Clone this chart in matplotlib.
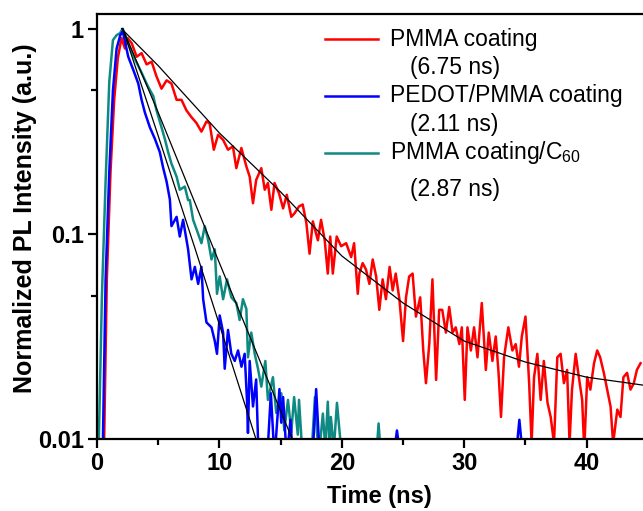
import matplotlib
matplotlib.use("Agg")
import matplotlib.pyplot as plt
from matplotlib.ticker import FixedLocator, NullFormatter

plt.rcParams['font.family'] = ['Liberation Sans', 'DejaVu Sans']
plt.rcParams['mathtext.fontset'] = 'custom'
plt.rcParams['mathtext.rm'] = 'Liberation Sans'

# PMMA coating (red)
red_t = [0.5, 0.8, 1.1, 1.4, 1.7, 2.0, 2.28, 2.5, 2.83, 3.24, 3.64, 4.05, 4.46, 4.86, 5.27, 5.68,
         6.08, 6.5, 6.9, 7.3, 7.72, 8.12, 8.53, 8.94, 9.2, 9.54, 9.89, 10.3, 10.7, 11.1, 11.38, 11.79,
         12.2, 12.47, 12.74, 13.0, 13.42, 13.7, 13.96, 14.24, 14.5, 14.86, 15.2, 15.5, 15.87, 16.14,
         16.5, 16.8, 17.1, 17.36, 17.63, 18.04, 18.3, 18.6, 18.85, 19.05, 19.26, 19.58, 19.94, 20.35,
         20.76, 21.0, 21.3, 21.43, 21.7, 21.97, 22.25, 22.52, 22.8, 23.06, 23.33, 23.6, 23.9, 24.15,
         24.4, 24.7, 25.0, 25.24, 25.5, 25.78, 26.05, 26.4, 26.65, 26.87, 27.14, 27.4, 27.7, 27.95,
         28.2, 28.5, 28.77, 29.04, 29.3, 29.6, 29.8, 30.04, 30.26, 30.54, 30.8, 31.08, 31.43, 31.76,
         32.0, 32.3, 32.57, 32.8, 33.0, 33.25, 33.6, 33.93, 34.2, 34.47, 34.7, 35.0, 35.3, 35.5, 35.7,
         35.97, 36.24, 36.5, 36.8, 37.06, 37.33, 37.6, 37.87, 38.14, 38.4, 38.6, 38.8, 39.1, 39.36,
         39.63, 39.8, 40.04, 40.3, 40.6, 40.86, 41.1, 41.4, 41.67, 41.95, 42.16, 42.5, 42.76, 43.0,
         43.3, 43.58, 43.85, 44.1, 44.4]
red_I = [0.005, 0.06, 0.2, 0.45, 0.72, 0.9, 0.8, 0.9, 0.85, 0.73, 0.76, 0.67, 0.69, 0.585, 0.51, 0.56,
         0.54, 0.45, 0.45, 0.40, 0.37, 0.347, 0.315, 0.353, 0.345, 0.257, 0.304, 0.287, 0.257, 0.267, 0.209, 0.262,
         0.213, 0.19, 0.141, 0.183, 0.209, 0.164, 0.177, 0.131, 0.177, 0.158, 0.133, 0.155, 0.121, 0.126,
         0.136, 0.139, 0.113, 0.080, 0.115, 0.093, 0.117, 0.093, 0.064, 0.097, 0.064, 0.097, 0.087, 0.090,
         0.077, 0.090, 0.051, 0.064, 0.072, 0.067, 0.057, 0.075, 0.062, 0.0426, 0.060, 0.048, 0.069, 0.053,
         0.064, 0.048, 0.030, 0.049, 0.062, 0.064, 0.0395, 0.049, 0.027, 0.0187, 0.029, 0.060, 0.0194, 0.0426,
         0.0426, 0.033, 0.044, 0.033, 0.035, 0.029, 0.035, 0.0155, 0.035, 0.027, 0.035, 0.025, 0.046, 0.0217,
         0.033, 0.024, 0.0316, 0.021, 0.0128, 0.025, 0.035, 0.027, 0.029, 0.0225, 0.0316, 0.0395, 0.0187, 0.0095, 0.020,
         0.026, 0.0155, 0.024, 0.015, 0.0128, 0.0095, 0.025, 0.026, 0.0187, 0.0217, 0.0095, 0.0174, 0.026, 0.020,
         0.0155, 0.0088, 0.020, 0.0174, 0.0234, 0.027, 0.025, 0.021, 0.0174, 0.0144, 0.0095, 0.0139, 0.0128, 0.020,
         0.021, 0.0174, 0.0187, 0.0217, 0.0234]

# PEDOT/PMMA coating (blue)
blue_t = [0.4, 0.7, 1.0, 1.3, 1.6, 1.9, 2.1, 2.55, 2.96, 3.37, 3.64, 3.91, 4.32, 4.73, 5.13, 5.4,
          5.68, 5.95, 6.08, 6.5, 6.76, 7.03, 7.44, 7.72, 7.99, 8.26, 8.53, 8.67, 8.94, 9.35, 9.62,
          9.8, 10.02, 10.3, 10.43, 10.7, 10.97, 11.25, 11.52, 11.8, 12.06, 12.25, 12.33, 12.47, 12.74,
          13.0, 13.2, 13.9, 14.2, 14.5, 14.9, 15.05, 15.2, 15.5, 15.8, 16.0, 16.2, 17.6, 17.9, 18.2,
          24.2, 24.5, 24.8, 34.2, 34.5, 34.8]
blue_I = [0.005, 0.06, 0.2, 0.5, 0.8, 0.93, 0.97, 0.73, 0.63, 0.54, 0.45, 0.39, 0.33, 0.29, 0.25, 0.21,
          0.18, 0.147, 0.109, 0.121, 0.097, 0.117, 0.084, 0.060, 0.069, 0.057, 0.069, 0.048, 0.037, 0.035, 0.030,
          0.026, 0.040, 0.033, 0.022, 0.034, 0.026, 0.024, 0.027, 0.0225, 0.026, 0.0155, 0.0107, 0.024, 0.0144,
          0.0195, 0.008, 0.008, 0.0167, 0.008, 0.0175, 0.012, 0.016, 0.008, 0.0124, 0.008, 0.008, 0.008, 0.0175, 0.008,
          0.008, 0.011, 0.008, 0.008, 0.0124, 0.008]

# PMMA coating/C60 (teal)
teal_t = [0.0, 0.15, 0.4, 0.7, 1.0, 1.3, 1.6, 1.87, 2.1, 2.55, 3.1, 3.64, 4.18, 4.59, 4.86, 5.27,
          5.54, 5.81, 6.08, 6.5, 6.76, 7.17, 7.44, 7.58, 7.85, 8.26, 8.53, 8.8, 9.08, 9.35, 9.62,
          9.8, 10.02, 10.3, 10.62, 10.97, 11.38, 11.65, 11.92, 12.2, 12.33, 12.6, 12.88, 13.15, 13.42,
          13.75, 13.96, 14.37, 14.64, 15.05, 15.3, 15.6, 15.87, 16.1, 16.4, 16.5, 16.8, 17.5, 17.8,
          18.1, 18.45, 18.65, 18.85, 19.0, 19.1, 19.35, 19.6, 19.9, 20.1, 22.8, 23.0, 23.2]
teal_I = [0.005, 0.01, 0.05, 0.18, 0.55, 0.88, 0.93, 0.95, 1.0, 0.85, 0.71, 0.61, 0.52, 0.47, 0.40, 0.33,
          0.29, 0.25, 0.22, 0.19, 0.164, 0.17, 0.146, 0.146, 0.117, 0.10, 0.090, 0.109, 0.093, 0.075, 0.084,
          0.051, 0.062, 0.048, 0.060, 0.049, 0.046, 0.038, 0.048, 0.043, 0.025, 0.033, 0.026, 0.022, 0.018,
          0.024, 0.0155, 0.020, 0.0134, 0.0167, 0.011, 0.0155, 0.0108, 0.016, 0.0105, 0.0155, 0.008, 0.008, 0.016,
          0.008, 0.0133, 0.009, 0.0152, 0.009, 0.0128, 0.009, 0.015, 0.0095, 0.008, 0.008, 0.0119, 0.008]

# fitted decays (black)
fit_red_t = [2.0, 5, 10, 15, 19, 20, 25, 30, 35, 40, 44.6]
fit_red_I = [1.0, 0.66, 0.31, 0.16, 0.09, 0.078, 0.046, 0.030, 0.0237, 0.0200, 0.0183]
fit_blue_t = [2.1, 5, 8, 10, 13.1]
fit_blue_I = [1.0, 0.30, 0.085, 0.036, 0.0095]
fit_teal_t = [2.1, 5, 10, 16.1]
fit_teal_I = [1.0, 0.39, 0.072, 0.0095]

labels = ['PMMA coating', 'PEDOT/PMMA coating', 'PMMA coating/C$_{\\mathrm{60}}$']
lifetimes = ['(6.75 ns)', '(2.11 ns)', '(2.87 ns)']
colors = ['#FF0000', '#0000FF', '#0E8A82']

fig = plt.figure(figsize=(6.43, 5.11), dpi=100)
ax = fig.add_axes([0.1509, 0.141, 0.8491, 0.8317])

ax.plot(red_t, red_I, color=colors[0], lw=1.8)
ax.plot(teal_t, teal_I, color=colors[2], lw=1.8)
ax.plot(blue_t, blue_I, color=colors[1], lw=1.8)
ax.plot(fit_red_t, fit_red_I, color='black', lw=0.9)
ax.plot(fit_blue_t, fit_blue_I, color='black', lw=0.9)
ax.plot(fit_teal_t, fit_teal_I, color='black', lw=0.9)

ax.set_yscale('log')
ax.set_xlim(0, 44.6)
ax.set_ylim(0.01, 1.18)

ax.xaxis.set_major_locator(FixedLocator([0, 10, 20, 30, 40]))
ax.xaxis.set_minor_locator(FixedLocator([5, 15, 25, 35]))
ax.yaxis.set_major_locator(FixedLocator([0.01, 0.1, 1]))
ax.yaxis.set_minor_locator(FixedLocator([0.05, 0.5]))
ax.yaxis.set_minor_formatter(NullFormatter())
ax.set_yticklabels(['0.01', '0.1', '1'])

for s in ['left', 'bottom', 'top']:
    ax.spines[s].set_linewidth(1.6)
ax.spines['right'].set_visible(False)
ax.tick_params(which='major', direction='out', length=6.5, width=1.6, labelsize=17, pad=3)
ax.tick_params(which='minor', direction='out', length=4.5, width=1.6)
ax.tick_params(top=False, right=False)
for lab in ax.get_xticklabels() + ax.get_yticklabels():
    lab.set_fontweight('bold')

ax.set_xlabel('Time (ns)', fontsize=17, fontweight='bold')
ax.xaxis.set_label_coords(0.517, -0.136)
ax.xaxis.label.set_va('center')
ax.set_ylabel('Normalized PL Intensity (a.u.)', fontsize=18, fontweight='bold')
ax.yaxis.set_label_coords(-0.132, 0.519)
ax.yaxis.label.set_va('center')

# legend drawn by hand so the lifetimes sit on their own lines
rows_y = [0.941, 0.807, 0.673]
sub_y = [0.873, 0.739, 0.588]
for lab, lt, c, ry, sy in zip(labels, lifetimes, colors, rows_y, sub_y):
    ax.plot([0.4176, 0.5147], [ry, ry], color=c, lw=1.8, transform=ax.transAxes)
    ax.text(0.5366, ry, lab, transform=ax.transAxes, fontsize=16.5, va='center', ha='left')
    ax.text(0.573, sy, lt, transform=ax.transAxes, fontsize=16.5, va='center', ha='left')

fig.savefig('out.png', dpi=100)
